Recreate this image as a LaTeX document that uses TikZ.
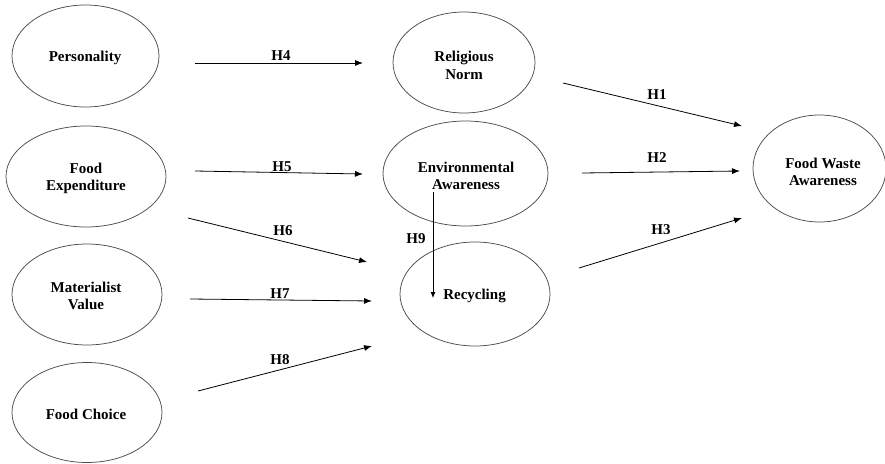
\documentclass[tikz,border=0pt]{standalone}
\usepackage{fontspec}
\setmainfont{Liberation Serif}
\usetikzlibrary{shapes.geometric,arrows.meta}
\tikzset{
  construct/.style={draw=black!70, line width=0.75pt, ellipse, inner sep=0pt},
  ctext/.style={align=center, inner sep=0pt, font=\bfseries\fontsize{15}{17.5}\selectfont},
  hyp/.style={font=\bfseries\fontsize{15}{17.5}\selectfont, inner sep=0pt},
  path/.style={draw=black, line width=0.8pt, -{Latex[length=8pt,width=6pt]}}
}
\begin{document}
\begin{tikzpicture}[x=1pt,y=-1pt]
\useasboundingbox (0,0) rectangle (885,463);
% constructs
\node[construct, minimum width=147pt, minimum height=102pt] (pers) at (85.5,56) {};
\node[construct, minimum width=160pt, minimum height=101pt] (fexp) at (86,176.5) {};
\node[construct, minimum width=150pt, minimum height=101pt] (mat) at (87,294.5) {};
\node[construct, minimum width=150pt, minimum height=100pt] (fch) at (87,412.5) {};
\node[construct, minimum width=142pt, minimum height=101pt] (rel) at (464,62.5) {};
\node[construct, minimum width=165pt, minimum height=105pt] (env) at (465.5,173.5) {};
\node[construct, minimum width=150pt, minimum height=104pt] (rec) at (475,294) {};
\node[construct, minimum width=133pt, minimum height=107pt] (fwa) at (819.5,168.5) {};
% texts
\node[ctext] (perst) at (85,57.5) {Personality};
\node[ctext] (fexpt) at (86,178.5) {Food\\Expenditure};
\node[ctext] (matt) at (86,296) {Materialist\\Value};
\node[ctext] (fcht) at (86,414) {Food Choice};
\node[ctext] (relt) at (464,65.5) {Religious\\Norm};
\node[ctext] (envt) at (466,176) {Environmental\\Awareness};
\node[ctext] (rect) at (474.5,295.5) {Recycling};
\node[ctext] (fwat) at (823,172) {Food Waste\\Awareness};
% arrow end points
\coordinate (h4s) at (195,63);  \coordinate (h4e) at (363,63);
\coordinate (h5s) at (195,171); \coordinate (h5e) at (363,174);
\coordinate (h6s) at (188,218); \coordinate (h6e) at (367,262);
\coordinate (h7s) at (190,299); \coordinate (h7e) at (372,301);
\coordinate (h8s) at (198,391); \coordinate (h8e) at (372,346);
\coordinate (h1s) at (563,83);  \coordinate (h1e) at (742,126);
\coordinate (h2s) at (582,173); \coordinate (h2e) at (740,171);
\coordinate (h3s) at (579,268); \coordinate (h3e) at (742,218);
\coordinate (h9s) at (433,192); \coordinate (h9e) at (433,298);
% arrows
\draw[path] (h4s) -- (h4e);
\draw[path] (h5s) -- (h5e);
\draw[path] (h6s) -- (h6e);
\draw[path] (h7s) -- (h7e);
\draw[path] (h8s) -- (h8e);
\draw[path] (h1s) -- (h1e);
\draw[path] (h2s) -- (h2e);
\draw[path] (h3s) -- (h3e);
\draw[path, -{Latex[length=6pt,width=5pt]}] (h9s) -- (h9e);
% labels
\node[hyp] (l4) at (281,56) {H4};
\node[hyp] (l5) at (282,167) {H5};
\node[hyp] (l6) at (283,231) {H6};
\node[hyp] (l7) at (280,294) {H7};
\node[hyp] (l8) at (280,360) {H8};
\node[hyp] (l1) at (657,95) {H1};
\node[hyp] (l2) at (657,158) {H2};
\node[hyp] (l3) at (661,230) {H3};
\node[hyp] (l9) at (416,239) {H9};
\end{tikzpicture}
\end{document}
